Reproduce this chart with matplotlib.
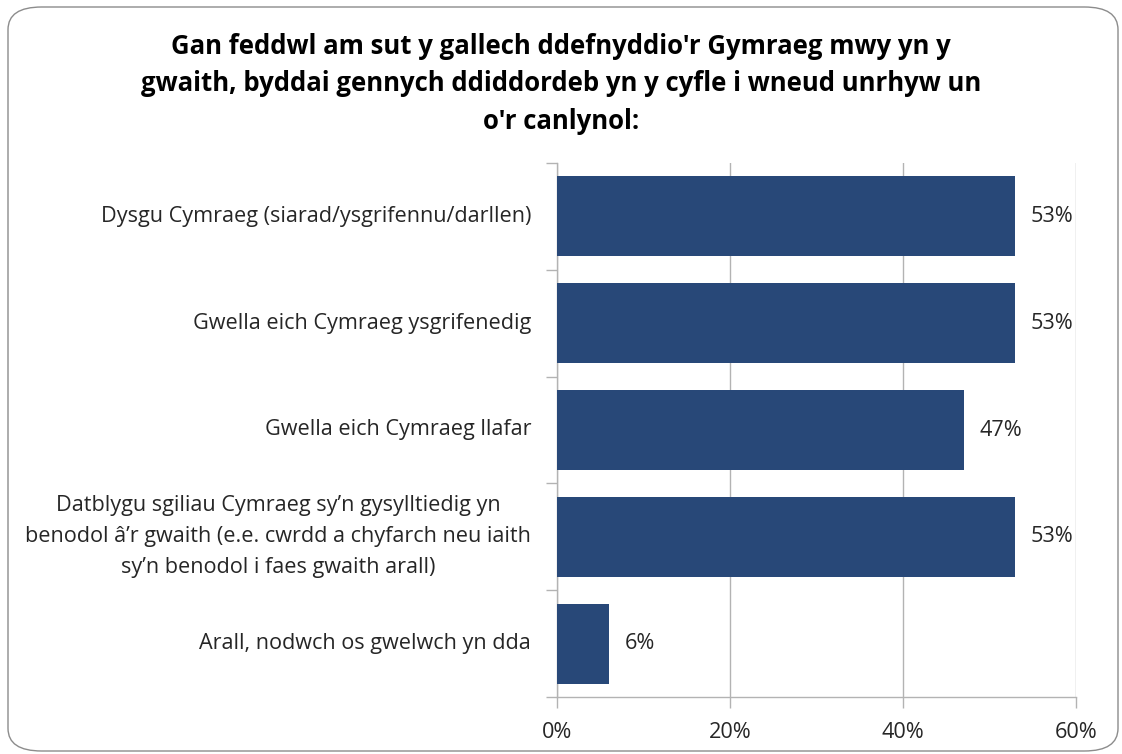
import matplotlib
matplotlib.use('Agg')
import matplotlib.pyplot as plt
from matplotlib.patches import FancyBboxPatch

# data
categories = [
    'Dysgu Cymraeg (siarad/ysgrifennu/darllen)',
    'Gwella eich Cymraeg ysgrifenedig',
    'Gwella eich Cymraeg llafar',
    'Datblygu sgiliau Cymraeg sy\u2019n gysylltiedig yn\nbenodol \u00e2\u2019r gwaith (e.e. cwrdd a chyfarch neu iaith\nsy\u2019n benodol i faes gwaith arall)',
    'Arall, nodwch os gwelwch yn dda',
]
values = [53, 53, 47, 53, 6]
x_ticks = [0, 20, 40, 60]
x_tick_labels = ['0%', '20%', '40%', '60%']
title = ("Gan feddwl am sut y gallech ddefnyddio'r Gymraeg mwy yn y\n"
         "gwaith, byddai gennych ddiddordeb yn y cyfle i wneud unrhyw un\n"
         "o'r canlynol:")

plt.rcParams['font.family'] = ['Open Sans', 'DejaVu Sans']
bar_color = '#284878'
grid_color = '#b3b3b3'
text_color = '#262626'
fs = 15.6

fig = plt.figure(figsize=(11.22, 7.54), dpi=100)
fig.patch.set_facecolor('white')

# rounded chart border
border = FancyBboxPatch((8 / 1122, 3 / 754), 1110 / 1122, 744 / 754,
                        boxstyle='round,pad=0,rounding_size=0.03',
                        transform=fig.transFigure, facecolor='none',
                        edgecolor='#8c8c8c', linewidth=1.0)
fig.patches.append(border)

ax = fig.add_axes([557 / 1122, 57 / 754, 519 / 1122, 534 / 754])

n = len(categories)
ypos = list(range(n))
ax.barh(ypos, values, height=0.75, color=bar_color, zorder=3)
ax.set_ylim(n - 0.5, -0.5)
ax.set_xlim(0, 60)

for y, v in zip(ypos, values):
    ax.text(v + 1.8, y, f'{v}%', va='center', ha='left', fontsize=fs,
            color=text_color)

ax.set_xticks(x_ticks)
ax.set_xticklabels(x_tick_labels, fontsize=fs, color=text_color)
ax.xaxis.grid(True, color=grid_color, linewidth=1.0, zorder=0)
ax.tick_params(axis='x', length=8, color=grid_color, pad=10, width=1.0)

# category labels as text, ticks at category boundaries
ax.set_yticks([y + 0.5 for y in range(-1, n)])
ax.set_yticklabels([])
ax.tick_params(axis='y', length=8, color=grid_color, width=1.0)
for y, lab in zip(ypos, categories):
    ax.text(-3.0, y, lab, ha='right', va='center', fontsize=fs,
            color=text_color, linespacing=1.62, multialignment='center')

for side in ['top', 'right']:
    ax.spines[side].set_visible(False)
for side in ['left', 'bottom']:
    ax.spines[side].set_color(grid_color)
    ax.spines[side].set_linewidth(1.0)

fig.text(0.5, 0.8886, title, ha='center', va='center', fontsize=18.5,
         fontweight='bold', color='black', linespacing=1.5)

fig.savefig('out.png', dpi=100)
